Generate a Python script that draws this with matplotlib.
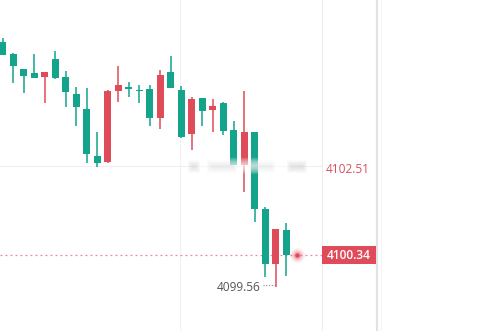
import matplotlib.pyplot as plt
from matplotlib.patches import Rectangle, FancyBboxPatch

# candle data (green = falling, red = rising)
opens = [4105.60, 4105.30, 4104.93, 4104.84, 4104.74, 4105.17, 4104.72, 4104.31,
         4103.94, 4102.78, 4102.63, 4104.39, 4104.49, 4104.42, 4104.43, 4103.71,
         4104.85, 4104.41, 4103.32, 4104.22, 4103.92, 4104.10, 4103.42, 4102.56,
         4103.37, 4101.47, 4100.11, 4100.96]
closes = [4105.27, 4105.01, 4104.76, 4104.71, 4104.86, 4104.71, 4104.35, 4104.00,
          4102.82, 4102.62, 4104.39, 4104.53, 4104.43, 4104.39, 4103.71, 4104.78,
          4104.45, 4103.26, 4104.19, 4103.90, 4104.01, 4103.40, 4102.56, 4103.37,
          4101.47, 4100.11, 4100.98, 4100.34]
highs = [4105.68, 4105.31, 4104.93, 4105.30, 4104.86, 4105.37, 4104.89, 4104.48,
         4104.45, 4103.37, 4104.40, 4105.01, 4104.60, 4104.53, 4104.53, 4104.90,
         4105.25, 4104.51, 4104.23, 4104.22, 4104.19, 4104.12, 4103.64, 4104.38,
         4103.37, 4101.52, 4100.98, 4101.12]
lows = [4105.27, 4104.57, 4104.33, 4104.71, 4104.08, 4104.67, 4104.00, 4103.53,
        4102.62, 4102.50, 4102.60, 4104.11, 4104.23, 4104.10, 4103.53, 4103.45,
        4104.45, 4103.22, 4102.93, 4103.53, 4103.37, 4103.30, 4102.56, 4101.89,
        4101.16, 4099.80, 4099.56, 4099.83]

last_price = 4100.34
mark_price = 4102.51
low_price = 4099.56

UP = '#e04b5a'
DOWN = '#14a38b'

fig = plt.figure(figsize=(4.98, 3.31), dpi=100)
ax = fig.add_axes([0, 0, 1, 1])
ax.set_xlim(-0.267, 47.16)
ax.set_ylim(4098.466, 4106.629)
ax.axis('off')

W = 498.0
def fx(p):
    # pixel column -> axes fraction
    return p / W

xt = ax.get_yaxis_transform()

# grid / panel lines
ax.axvline(16.88, color='#f2f2f2', lw=0.8, zorder=0)
ax.plot([0, fx(322)], [4102.53, 4102.53], transform=xt, color='#efefef', lw=0.8, zorder=0)
ax.axvline(30.4, color='#eeeeee', lw=0.8, zorder=0)
ax.plot([fx(376.5)] * 2, [0, 1], transform=ax.transAxes, color='#e2e2e2', lw=1.6, zorder=0)
ax.plot([fx(381)] * 2, [0, 1], transform=ax.transAxes, color='#f6f6f6', lw=0.8, zorder=0)

# candles
for i in range(len(opens)):
    o, c, h, l = opens[i], closes[i], highs[i], lows[i]
    col = UP if c > o else DOWN
    ax.plot([i, i], [l, h], color=col, lw=1.1, zorder=2, solid_capstyle='butt')
    bot = min(o, c)
    hgt = max(abs(c - o), 0.025)
    ax.add_patch(Rectangle((i - 0.333, bot), 0.667, hgt, color=col, lw=0, zorder=3))

# blurred watermark (white haze + soft grey blobs)
for k in range(8):
    ax.add_patch(FancyBboxPatch((fx(188 + 1.5 * k), 4102.34 + 0.025 * k), fx(118 - 3 * k), 0.40 - 0.05 * k,
                                boxstyle='round,pad=0,rounding_size=0.006', transform=xt,
                                fc='white', ec='none', alpha=0.14, zorder=4))
for cx, w, a in [(194, 12, 0.09), (222, 30, 0.05), (262, 26, 0.04), (297, 20, 0.09)]:
    for k in range(5):
        ax.add_patch(FancyBboxPatch((fx(cx - w / 2 + k), 4102.37 + 0.03 * k), fx(w - 2 * k), 0.30 - 0.06 * k,
                                    boxstyle='round,pad=0,rounding_size=0.008', transform=xt,
                                    fc='#bdbdbd', ec='none', alpha=a, zorder=5))

# last price dotted line
ax.plot([0, fx(322)], [last_price, last_price], transform=xt, color='#e88896',
        lw=0.9, ls=(0, (1.5, 2.5)), zorder=1)

# pulsing dot
n = len(opens)
dot_x = n - 1 + (296 - 285.3) / 10.5
for s, a in [(120, 0.07), (75, 0.12), (42, 0.2), (18, 0.45)]:
    ax.scatter([dot_x], [last_price], s=s, color=UP, alpha=a, lw=0, zorder=6)
ax.scatter([dot_x], [last_price], s=8, color=UP, lw=0, zorder=7)

# low marker
ax.plot([fx(263), fx(276)], [low_price + 0.04, low_price + 0.04], transform=xt,
        color='#888888', lw=0.8, ls=(0, (1, 1.5)), zorder=2)
ax.text(fx(261), low_price - 0.02, f'{low_price:.2f}', transform=xt, ha='right', va='center',
        fontsize=8.6, family='Open Sans', color='#555555')

# price labels
ax.text(fx(326), mark_price - 0.07, f'{mark_price:.2f}', transform=xt, ha='left', va='center',
        fontsize=8.6, family='Open Sans', color='#d9505e')
ax.add_patch(Rectangle((fx(322), last_price - 0.22), fx(54), 0.44, transform=xt,
                       color=UP, lw=0, zorder=6))
ax.text(fx(349), last_price - 0.01, f'{last_price:.2f}', transform=xt, ha='center', va='center',
        fontsize=8.6, family='Open Sans', color='white', weight='semibold', zorder=7)

fig.savefig('out.png', dpi=100)
